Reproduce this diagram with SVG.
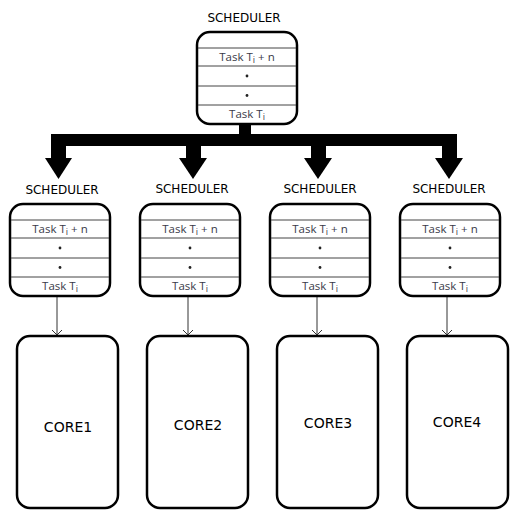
<svg xmlns="http://www.w3.org/2000/svg" width="523" height="523" viewBox="0 0 523 523">
<style>
.box{fill:#fff;stroke:#000;stroke-width:2.5}
.row{stroke:#444;stroke-width:1}
.lbl{font-family:"DejaVu Sans",sans-serif;font-size:12px;fill:#000;text-anchor:middle}
.core{font-family:"DejaVu Sans",sans-serif;font-size:14px;fill:#000;text-anchor:middle}
.task{font-family:"Open Sans","Liberation Sans",sans-serif;font-size:11.5px;fill:#3a3a48;text-anchor:middle}
.sub{font-size:9px}
.dot{fill:#222}
.thin{stroke:#333;stroke-width:1;fill:none}
</style>
<defs>
<marker id="v" markerWidth="10" markerHeight="10" refX="5" refY="5" orient="auto" markerUnits="userSpaceOnUse">
<path d="M0,0 L5,5 L0,10" fill="none" stroke="#333" stroke-width="1"/>
</marker>
<g id="stack">
<rect class="box" x="0" y="0" width="100" height="92" rx="13"/>
<line class="row" x1="1" y1="16" x2="99" y2="16"/>
<line class="row" x1="1" y1="34" x2="99" y2="34"/>
<line class="row" x1="1" y1="54" x2="99" y2="54"/>
<line class="row" x1="1" y1="73" x2="99" y2="73"/>
<text class="task" x="50" y="29">Task T<tspan class="sub" dy="2">i</tspan><tspan dy="-2"> + n</tspan></text>
<circle class="dot" cx="50" cy="44" r="1.4"/>
<circle class="dot" cx="50" cy="63.5" r="1.4"/>
<text class="task" x="50" y="86">Task T<tspan class="sub" dy="2">i</tspan></text>
</g>
</defs>

<g id="connectors">
<rect x="239" y="123" width="12" height="17" fill="#000"/>
<rect x="51" y="134" width="406" height="12" fill="#000"/>
<rect x="51" y="134" width="15" height="26" fill="#000"/>
<polygon points="45,158 72,158 58.5,179" fill="#000"/>
<rect x="186" y="134" width="15" height="26" fill="#000"/>
<polygon points="179,158 207,158 193,179" fill="#000"/>
<rect x="311" y="134" width="15" height="26" fill="#000"/>
<polygon points="304,158 332,158 318,179" fill="#000"/>
<rect x="442" y="134" width="15" height="26" fill="#000"/>
<polygon points="435,158 463,158 449,179" fill="#000"/>
<line class="thin" x1="57" y1="296" x2="57" y2="335" marker-end="url(#v)"/>
<line class="thin" x1="188" y1="296" x2="188" y2="335" marker-end="url(#v)"/>
<line class="thin" x1="317" y1="296" x2="317" y2="335" marker-end="url(#v)"/>
<line class="thin" x1="447" y1="296" x2="447" y2="335" marker-end="url(#v)"/>
</g>

<g id="scheduler-top">
<text class="lbl" x="244" y="22">SCHEDULER</text>
<use href="#stack" x="197" y="32"/>
</g>
<g id="scheduler-1">
<text class="lbl" x="62" y="194">SCHEDULER</text>
<use href="#stack" x="10" y="204"/>
</g>
<g id="scheduler-2">
<text class="lbl" x="192" y="193">SCHEDULER</text>
<use href="#stack" x="140" y="204"/>
</g>
<g id="scheduler-3">
<text class="lbl" x="320" y="193">SCHEDULER</text>
<use href="#stack" x="270" y="204"/>
</g>
<g id="scheduler-4">
<text class="lbl" x="449" y="193">SCHEDULER</text>
<use href="#stack" x="400" y="204"/>
</g>

<g id="core1">
<rect class="box" x="17" y="336" width="101" height="172" rx="13"/>
<text class="core" x="68" y="432">CORE1</text>
</g>
<g id="core2">
<rect class="box" x="147" y="336" width="101" height="172" rx="13"/>
<text class="core" x="198" y="430">CORE2</text>
</g>
<g id="core3">
<rect class="box" x="277" y="336" width="101" height="172" rx="13"/>
<text class="core" x="328" y="428">CORE3</text>
</g>
<g id="core4">
<rect class="box" x="407" y="336" width="101" height="172" rx="13"/>
<text class="core" x="457" y="427">CORE4</text>
</g>
</svg>
